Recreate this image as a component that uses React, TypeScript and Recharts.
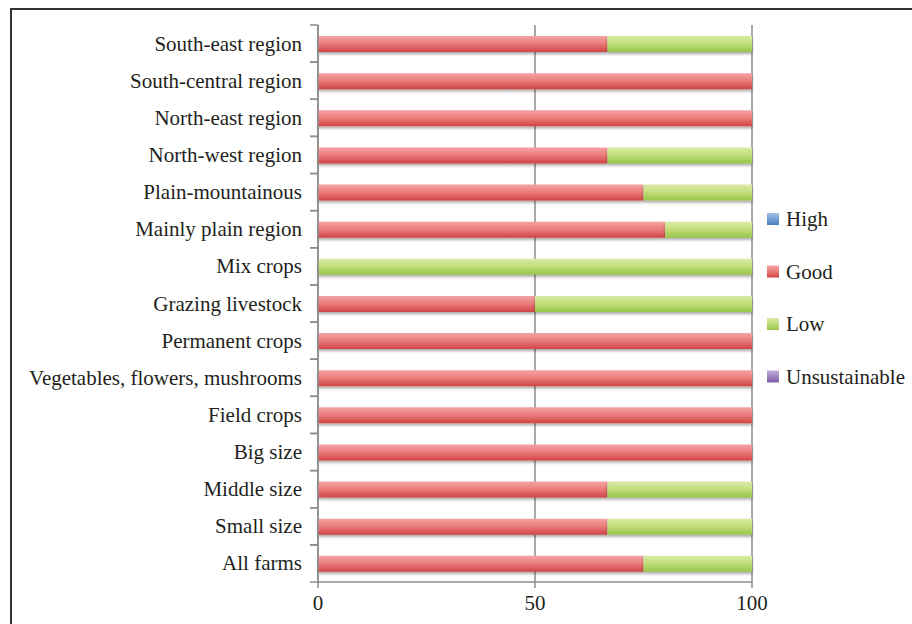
import React from 'react';
import { BarChart, Bar, XAxis, YAxis, CartesianGrid } from 'recharts';

const categories = [
  'South-east region',
  'South-central region',
  'North-east region',
  'North-west region',
  'Plain-mountainous',
  'Mainly plain region',
  'Mix crops',
  'Grazing livestock',
  'Permanent crops',
  'Vegetables, flowers, mushrooms',
  'Field crops',
  'Big size',
  'Middle size',
  'Small size',
  'All farms',
];

const highValues = [0, 0, 0, 0, 0, 0, 0, 0, 0, 0, 0, 0, 0, 0, 0];
const goodValues = [66.7, 100, 100, 66.7, 75, 80, 0, 50, 100, 100, 100, 100, 66.7, 66.7, 75];
const lowValues = [33.3, 0, 0, 33.3, 25, 20, 100, 50, 0, 0, 0, 0, 33.3, 33.3, 25];
const unsustainableValues = [0, 0, 0, 0, 0, 0, 0, 0, 0, 0, 0, 0, 0, 0, 0];

const xTicks = [0, 50, 100];

const data = categories.map((name, i) => ({
  name,
  high: highValues[i],
  good: goodValues[i],
  low: lowValues[i],
  unsustainable: unsustainableValues[i],
}));

const FONT = '"Liberation Serif", "DejaVu Serif", serif';
const TEXT = '#231f20';
const AXIS = '#8c8c8c';
const FS = 21;

const legendItems = [
  { label: 'High', fill: 'url(#gHigh)' },
  { label: 'Good', fill: 'url(#gGood)' },
  { label: 'Low', fill: 'url(#gLow)' },
  { label: 'Unsustainable', fill: 'url(#gUns)' },
];

const PLOT_TOP = 25;
const PLOT_BOTTOM = 582;
const X_AXIS_H = 30;
const BAND = (PLOT_BOTTOM - PLOT_TOP) / categories.length;

// category label plus the Excel-style boundary ticks
const CategoryTick = (props: any) => {
  const { x, y, payload } = props;
  const ax = x + 8;
  return (
    <g>
      <line x1={ax - 8} x2={ax} y1={y - BAND / 2} y2={y - BAND / 2} stroke={AXIS} strokeWidth={1.5} />
      <line x1={ax - 8} x2={ax} y1={y + BAND / 2} y2={y + BAND / 2} stroke={AXIS} strokeWidth={1.5} />
      <text x={ax - 16} y={y} dy={7} textAnchor="end" fill={TEXT} fontSize={FS} fontFamily={FONT}>
        {payload.value}
      </text>
    </g>
  );
};

const App: React.FC = () => {
  return (
    <div style={{ position: 'absolute', left: 0, top: 0, width: 912, height: 624, background: '#fff', overflow: 'hidden' }}>
      <div
        style={{
          position: 'absolute',
          left: 10,
          top: 8,
          width: 920,
          height: 640,
          borderLeft: '2px solid #333',
          borderTop: '2px solid #333',
          boxSizing: 'border-box',
        }}
      />
      <BarChart
        width={912}
        height={624}
        data={data}
        layout="vertical"
        margin={{ top: PLOT_TOP, right: 160, bottom: 624 - PLOT_BOTTOM - X_AXIS_H, left: 0 }}
        barCategoryGap={0}
        style={{ position: 'absolute', left: 0, top: 0 }}
      >
        <defs>
          <linearGradient id="gGood" x1="0" y1="0" x2="0" y2="1">
            <stop offset="0%" stopColor="#f4a3a3" />
            <stop offset="45%" stopColor="#ec7f7f" />
            <stop offset="100%" stopColor="#d14444" />
          </linearGradient>
          <linearGradient id="gLow" x1="0" y1="0" x2="0" y2="1">
            <stop offset="0%" stopColor="#dbeaa8" />
            <stop offset="45%" stopColor="#c3df7c" />
            <stop offset="100%" stopColor="#98c44a" />
          </linearGradient>
          <linearGradient id="gHigh" x1="0" y1="0" x2="0" y2="1">
            <stop offset="0%" stopColor="#a3bfe6" />
            <stop offset="100%" stopColor="#4a7ec0" />
          </linearGradient>
          <linearGradient id="gUns" x1="0" y1="0" x2="0" y2="1">
            <stop offset="0%" stopColor="#c3abd9" />
            <stop offset="100%" stopColor="#7e5ca6" />
          </linearGradient>
          <filter id="barShadow" x="-2%" y="-30%" width="104%" height="180%">
            <feDropShadow dx="0" dy="2" stdDeviation="1.5" floodColor="#000" floodOpacity="0.35" />
          </filter>
        </defs>
        <CartesianGrid horizontal={false} stroke={AXIS} strokeWidth={1.5} />
        <XAxis
          type="number"
          domain={[0, 100]}
          ticks={xTicks}
          height={X_AXIS_H}
          stroke={AXIS}
          strokeWidth={1.5}
          tickSize={6}
          tickMargin={7}
          tick={{ fill: TEXT, fontSize: FS, fontFamily: FONT }}
        />
        <YAxis
          type="category"
          dataKey="name"
          width={318}
          stroke={AXIS}
          strokeWidth={1.5}
          tickLine={false}
          tick={<CategoryTick />}
          interval={0}
        />
        <Bar dataKey="high" stackId="a" barSize={16} fill="url(#gHigh)" isAnimationActive={false} />
        <Bar dataKey="good" stackId="a" barSize={16} fill="url(#gGood)" filter="url(#barShadow)" isAnimationActive={false} />
        <Bar dataKey="low" stackId="a" barSize={16} fill="url(#gLow)" filter="url(#barShadow)" isAnimationActive={false} />
        <Bar dataKey="unsustainable" stackId="a" barSize={16} fill="url(#gUns)" isAnimationActive={false} />
      </BarChart>
      <svg width={150} height={240} style={{ position: 'absolute', left: 767, top: 190 }}>
        {legendItems.map((it, i) => (
          <g key={it.label} transform={`translate(0, ${29 + i * 52.5})`}>
            <rect x={0} y={-6} width={12} height={12} fill={it.fill} />
            <text x={19} y={0} dy={7} fill={TEXT} fontSize={FS} fontFamily={FONT}>
              {it.label}
            </text>
          </g>
        ))}
      </svg>
    </div>
  );
};

export default App;
